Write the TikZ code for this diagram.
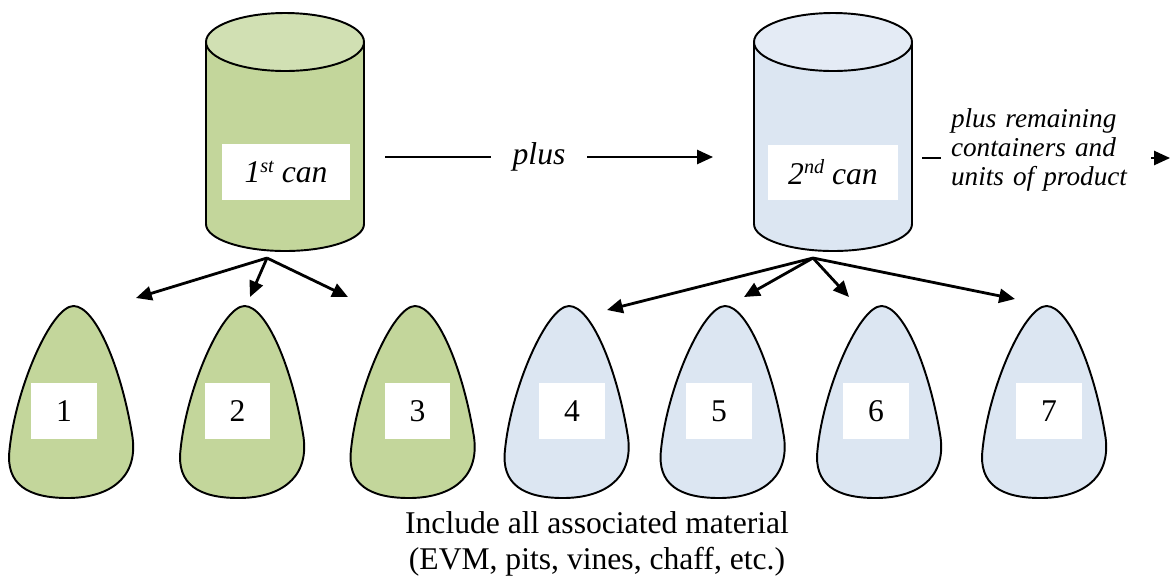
\documentclass[tikz,border=0pt]{standalone}
\usepackage{fontspec}
\setmainfont{Liberation Serif}
\usetikzlibrary{arrows.meta}

\definecolor{canGreen}{HTML}{C3D69B}
\definecolor{canGreenTop}{HTML}{D1E0B3}
\definecolor{canBlue}{HTML}{DCE6F2}
\definecolor{canBlueTop}{HTML}{E4EBF5}

\tikzset{
  outline/.style={draw=black, line width=1.1pt},
  labelbox/.style={fill=white, inner sep=0pt},
  feed/.style={-{Triangle[length=9pt,width=8pt]}, line width=1.6pt},
  pics/drop/.style={code={
    \path[pic actions] (2,0) .. controls (24,0) and (50,62) .. (61,131)
      .. controls (67,175) and (34,192) .. (-4,192)
      .. controls (-44,192) and (-66,178) .. (-62,144)
      .. controls (-56,82) and (-20,0) .. (2,0) -- cycle;}}
}

% can: centre x, body colour, lid colour
\newcommand{\drawcan}[3]{%
  \filldraw[outline, fill=#2] (#1,224) ellipse (79 and 27);
  \fill[#2] (#1-79,42) rectangle (#1+79,224);
  \draw[outline] (#1-79,42) -- (#1-79,224) (#1+79,42) -- (#1+79,224);
  \filldraw[outline, fill=#3] (#1,42) ellipse (79 and 29);
}
\newcommand{\sups}[1]{\raisebox{6pt}{\fontsize{11.5}{12}\selectfont #1}}

\begin{document}
\begin{tikzpicture}[x=0.02cm, y=-0.02cm, font=\fontsize{18}{20.5}\selectfont]
  \useasboundingbox (0,0) rectangle (1170,583);

  % the two cans
  \drawcan{285}{canGreen}{canGreenTop}
  \drawcan{833}{canBlue}{canBlueTop}
  \node[labelbox, minimum width=2.56cm, minimum height=1.12cm] (can1) at (286,172) {\itshape 1\sups{st} can};
  \node[labelbox, minimum width=2.6cm, minimum height=1.1cm] (can2) at (833,172) {\itshape 2\sups{nd} can};

  % units of product
  \foreach \dx/\bx/\col/\num in {71.5/64/canGreen/1, 242.5/237.5/canGreen/2, 413/417.5/canGreen/3,
      567/572/canBlue/4, 723/719/canBlue/5, 879.5/876/canBlue/6, 1044.5/1049/canBlue/7}{
    \pic[outline, fill=\col] at (\dx,306) {drop};
    \node[labelbox, minimum width=1.32cm, minimum height=1.12cm] (unit\num) at (\bx,411) {\num};
  }

  % arrows down to the units
  \coordinate (foot1) at (267,258);
  \coordinate (foot2) at (813,258);
  \coordinate (tip1) at (136,298);
  \coordinate (tip2) at (250,297);
  \coordinate (tip3) at (348,297);
  \coordinate (tip4) at (607,310);
  \coordinate (tip5) at (744,297);
  \coordinate (tip6) at (849,297);
  \coordinate (tip7) at (1015,299);
  \foreach \n in {1,2,3} \draw[feed] (foot1) -- (tip\n);
  \foreach \n in {4,5,6,7} \draw[feed] (foot2) -- (tip\n);

  % can to can
  \coordinate (plusstart) at (385,157);
  \coordinate (plusend) at (713,157);
  \draw[feed, line width=1.1pt] (plusstart) -- node[fill=white, xshift=-0.2cm, minimum width=1.94cm] {\itshape plus} (plusend);

  \coordinate (morestart) at (922,158);
  \coordinate (moreend) at (1170,158);
  \draw[feed, line width=1.1pt] (morestart) -- node[fill=white, text width=3.8cm, inner xsep=0.2cm, align=left, yshift=0.16cm,
      font=\fontsize{15.5}{16.5}\selectfont\itshape] {plus remaining\\containers and\\units of product} (moreend);

  \node[align=center] (note) at (597,544) {Include all associated material\\(EVM, pits, vines, chaff, etc.)};
\end{tikzpicture}
\end{document}
